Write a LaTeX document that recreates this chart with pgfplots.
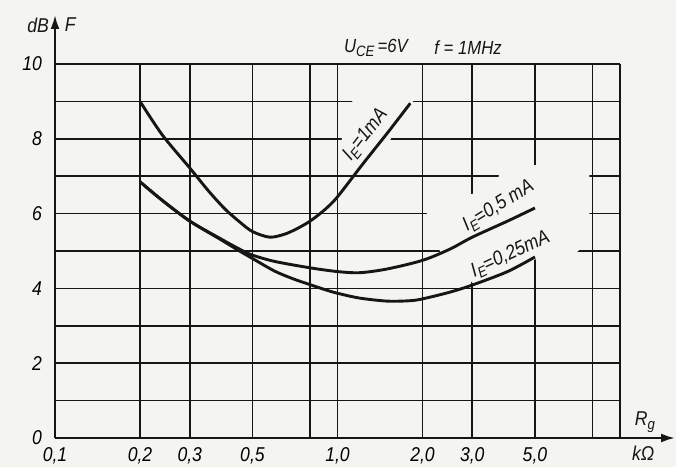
\documentclass[border=0pt]{standalone}
\usepackage{pgfplots}
\pgfplotsset{compat=1.18}
\usetikzlibrary{arrows.meta}
\usepackage{fontspec}
\setmainfont{Liberation Sans}[FakeStretch=0.88]
\definecolor{bg}{RGB}{244,244,241}
\definecolor{ink}{RGB}{22,22,22}
\newcommand\sub[1]{\raisebox{-0.4ex}{\fontsize{7.5}{8}\selectfont #1}}
\begin{document}
\begin{tikzpicture}
\path[use as bounding box, fill=bg] (0,0) rectangle (338pt,233.5pt);
\begin{axis}[
  at={(27.5pt,14.5pt)}, anchor=south west,
  scale only axis, width=282.5pt, height=187pt,
  xmode=log, xmin=0.1, xmax=10, ymin=0, ymax=10,
  axis lines=left,
  axis line style={ink, line width=1.1pt},
  x axis line style={-{Latex[length=7pt,width=4.5pt]}, shorten >=-27.5pt},
  y axis line style={-{Latex[length=7pt,width=4.5pt]}, shorten >=-24.5pt},
  xtick={0.1,0.2,0.3,0.5,0.8,1,2,3,5,8,10},
  xticklabels={{0,1},{0,2},{0,3},{0,5},,{1,0},{2,0},{3,0},{5,0},,},
  ytick={0,1,2,3,4,5,6,7,8,9,10},
  yticklabels={0,,2,,4,,6,,8,,10},
  minor xtick={}, minor ytick={},
  major tick length=0pt, minor tick length=0pt,
  grid=major,
  major grid style={ink, line width=0.8pt},
  tick label style={font=\fontsize{10}{12}\selectfont\itshape},
  /pgf/number format/assume math mode=true,
  yticklabel style={xshift=-3pt},
  xticklabel style={yshift=-1pt},
  clip=false,
]
% gaps in the grid around the curve labels
\fill[bg] (axis description cs:0.529,0.914) -- (axis description cs:0.639,0.914) -- (axis description cs:0.591,0.791) -- (axis description cs:0.506,0.791) -- cycle;
\fill[bg] (axis description cs:0.658,0.623) -- (axis description cs:0.745,0.655) -- (axis description cs:0.784,0.687) -- (axis description cs:0.788,0.727) -- (axis description cs:0.946,0.733) -- (axis description cs:0.946,0.524) -- (axis description cs:0.915,0.487) -- (axis description cs:0.855,0.481) -- (axis description cs:0.745,0.406) -- (axis description cs:0.683,0.495) -- (axis description cs:0.658,0.572) -- cycle;
% I_E = 1 mA
\addplot[ink, line width=1.45pt, smooth] coordinates {
(0.2,9.0) (0.24,8.1) (0.3,7.22) (0.35,6.6) (0.4,6.12) (0.45,5.78) (0.5,5.52)
(0.575,5.37) (0.65,5.45) (0.72,5.6) (0.8,5.8) (0.9,6.1) (1.0,6.45) (1.23,7.33)
(1.5,8.15) (1.81,8.95)};
% I_E = 0.5 mA
\addplot[ink, line width=1.45pt, smooth] coordinates {
(0.2,6.85) (0.24,6.35) (0.3,5.8) (0.383,5.34) (0.45,5.05) (0.5,4.89) (0.6,4.72)
(0.8,4.55) (1.0,4.45) (1.2,4.42) (1.5,4.52) (2.0,4.75) (2.5,5.05) (3.0,5.37)
(4.0,5.8) (5.0,6.15)};
% I_E = 0.25 mA
\addplot[ink, line width=1.45pt, smooth] coordinates {
(0.2,6.85) (0.24,6.35) (0.3,5.8) (0.383,5.32) (0.45,5.0) (0.5,4.8) (0.6,4.46)
(0.7,4.25) (0.8,4.1) (0.9,3.97) (1.0,3.87) (1.2,3.74) (1.5,3.66) (1.8,3.67)
(2.0,3.72) (2.5,3.9) (3.0,4.09) (4.0,4.45) (5.0,4.84)};
% curve labels
\node[rotate=52, font=\fontsize{10}{12}\selectfont\itshape, text=ink] at (axis cs:1.26,8.1) {I\sub{E}=1mA};
\node[rotate=32, font=\fontsize{10}{12}\selectfont\itshape, text=ink] at (axis cs:3.72,6.2) {I\sub{E}=0,5 mA};
\node[rotate=25, font=\fontsize{10}{12}\selectfont\itshape, text=ink] at (axis cs:4.1,4.9) {I\sub{E}=0,25mA};
% axis names and conditions
\node[font=\fontsize{10}{12}\selectfont\itshape, text=ink] at (axis description cs:-0.030,1.104) {dB};
\node[font=\fontsize{10}{12}\selectfont\itshape, text=ink] at (axis description cs:0.027,1.104) {F};
\node[font=\fontsize{9.5}{11}\selectfont\itshape, text=ink] at (axis description cs:0.568,1.043) {U\sub{CE}\,=6V};
\node[font=\fontsize{9.5}{11}\selectfont\itshape, text=ink] at (axis description cs:0.731,1.043) {f = 1MHz};
\node[font=\fontsize{10}{12}\selectfont\itshape, text=ink] at (axis description cs:1.044,0.043) {R\sub{g}};
\node[font=\fontsize{10}{12}\selectfont\itshape, text=ink] at (axis description cs:1.041,-0.040) {kΩ};
\end{axis}
\end{tikzpicture}
\end{document}
